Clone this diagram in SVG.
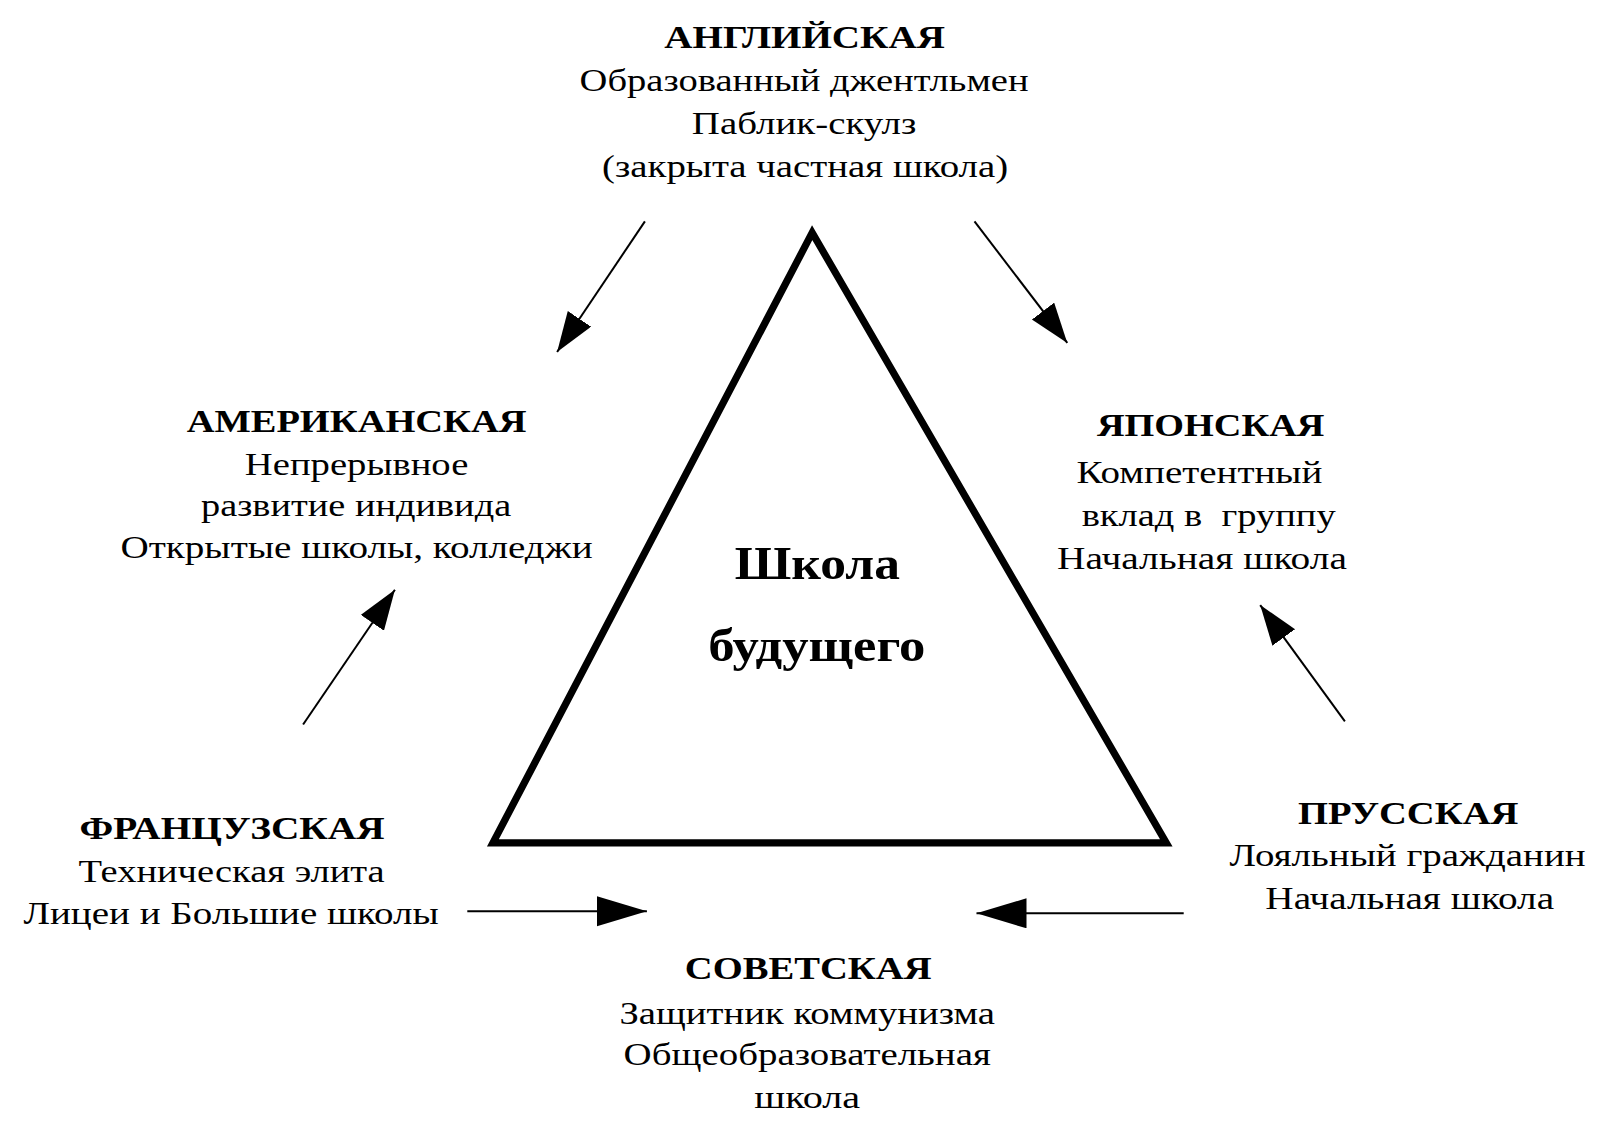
<svg xmlns="http://www.w3.org/2000/svg" width="1600" height="1122" viewBox="0 0 1600 1122">
<style>
text{font-family:"Liberation Serif","Times New Roman",serif;fill:#000;text-anchor:middle}
.h{font-weight:bold;font-size:30.6px}
.b{font-size:31.6px}
.c{font-weight:bold;font-size:47px}
.pre{white-space:pre}
.arr{stroke:#000;stroke-width:2;fill:none;marker-end:url(#ah)}
.arrL{stroke:#000;stroke-width:2;fill:none;marker-end:url(#ahL)}
</style>
<defs>
<marker id="ah" markerUnits="userSpaceOnUse" markerWidth="44" markerHeight="30" refX="40" refY="14" orient="auto">
<path d="M0,0 L40,14 L0,28 Z" fill="#000"/>
</marker>
<marker id="ahL" markerUnits="userSpaceOnUse" markerWidth="54" markerHeight="34" refX="50" refY="15" orient="auto">
<path d="M0,0 L50,15 L0,30 Z" fill="#000"/>
</marker>
</defs>
<rect width="1600" height="1122" fill="#fff"/>
<g id="triangle">
<polygon points="812.2,232.7 492.9,842.9 1166.3,842.9" fill="none" stroke="#000" stroke-width="7.2" stroke-linejoin="miter"/>
<text class="c" x="817.3" y="578.6" textLength="165.3" lengthAdjust="spacingAndGlyphs">Школа</text>
<text class="c" x="816.8" y="661.2" textLength="217.3" lengthAdjust="spacingAndGlyphs">будущего</text>
</g>
<g id="english">
<text class="h" x="804.6" y="48" textLength="280.6" lengthAdjust="spacingAndGlyphs">АНГЛИЙСКАЯ</text>
<text class="b" x="804.1" y="90.8" textLength="449" lengthAdjust="spacingAndGlyphs">Образованный джентльмен</text>
<text class="b" x="804.1" y="133.7" textLength="224.5" lengthAdjust="spacingAndGlyphs">Паблик-скулз</text>
<text class="b" x="805.1" y="176.5" textLength="406.1" lengthAdjust="spacingAndGlyphs">(закрыта частная школа)</text>
</g>
<g id="american">
<text class="h" x="356.6" y="431.6" textLength="339.8" lengthAdjust="spacingAndGlyphs">АМЕРИКАНСКАЯ</text>
<text class="b" x="356.6" y="474.5" textLength="223.5" lengthAdjust="spacingAndGlyphs">Непрерывное</text>
<text class="b" x="356.1" y="516.3" textLength="310.2" lengthAdjust="spacingAndGlyphs">развитие индивида</text>
<text class="b" x="356.6" y="558.2" textLength="472.4" lengthAdjust="spacingAndGlyphs">Открытые школы, колледжи</text>
</g>
<g id="japanese">
<text class="h" x="1210.7" y="435.7" textLength="227.5" lengthAdjust="spacingAndGlyphs">ЯПОНСКАЯ</text>
<text class="b" x="1199.5" y="482.6" textLength="245.9" lengthAdjust="spacingAndGlyphs">Компетентный</text>
<text class="b pre" x="1208.7" y="525.5" textLength="254.1" lengthAdjust="spacingAndGlyphs">вклад в  группу</text>
<text class="b" x="1202" y="569.4" textLength="289.8" lengthAdjust="spacingAndGlyphs">Начальная школа</text>
</g>
<g id="french">
<text class="h" x="232.1" y="838.8" textLength="305.1" lengthAdjust="spacingAndGlyphs">ФРАНЦУЗСКАЯ</text>
<text class="b" x="231.6" y="881.6" textLength="306.1" lengthAdjust="spacingAndGlyphs">Техническая элита</text>
<text class="b" x="231.1" y="923.5" textLength="415.3" lengthAdjust="spacingAndGlyphs">Лицеи и Большие школы</text>
</g>
<g id="prussian">
<text class="h" x="1408.2" y="823.5" textLength="220.4" lengthAdjust="spacingAndGlyphs">ПРУССКАЯ</text>
<text class="b" x="1407.6" y="866.3" textLength="356.1" lengthAdjust="spacingAndGlyphs">Лояльный гражданин</text>
<text class="b" x="1409.7" y="909.2" textLength="288.8" lengthAdjust="spacingAndGlyphs">Начальная школа</text>
</g>
<g id="soviet">
<text class="h" x="808.2" y="978.6" textLength="246.9" lengthAdjust="spacingAndGlyphs">СОВЕТСКАЯ</text>
<text class="b" x="807.2" y="1023.5" textLength="375.5" lengthAdjust="spacingAndGlyphs">Защитник коммунизма</text>
<text class="b" x="807.2" y="1065.3" textLength="367.3" lengthAdjust="spacingAndGlyphs">Общеобразовательная</text>
<text class="b" x="807.2" y="1108.2" textLength="106.1" lengthAdjust="spacingAndGlyphs">школа</text>
</g>
<g id="connectors">
<line class="arr" x1="644.9" y1="221.4" x2="557.1" y2="352"/>
<line class="arr" x1="974.5" y1="221.4" x2="1067.3" y2="342.9"/>
<line class="arr" x1="303.1" y1="724.5" x2="394.9" y2="589.8"/>
<line class="arr" x1="1344.9" y1="721.4" x2="1260.2" y2="605.1"/>
<line class="arrL" x1="467.3" y1="911.2" x2="646.9" y2="911.2"/>
<line class="arrL" x1="1183.7" y1="913.3" x2="976.5" y2="913.3"/>
</g>
</svg>
